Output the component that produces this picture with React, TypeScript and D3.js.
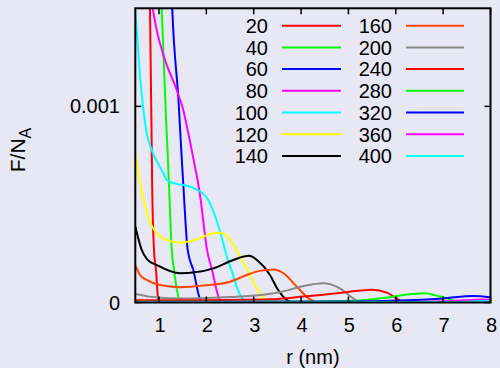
import React from "react";
import * as d3 from "d3";

// Radial profiles F/N_A(r) for increasing times
const labels = ["20", "40", "60", "80", "100", "120", "140", "160", "200", "240", "280", "320", "360", "400"];
const colors = [
  "#ff0000", "#00ff00", "#0000ff", "#ff00ff", "#00ffff", "#ffff00", "#000000",
  "#ff4500", "#888888", "#ff0000", "#00ff00", "#0000ff", "#ff00ff", "#00ffff",
];

type Pt = [number, number];
const s20: Pt[] = [[0.79, 1.8e-3], [0.81, 1.5e-3], [0.84, 0.93e-3], [0.855, 0.62e-3], [0.895, 0.268e-3], [0.937, 0.166e-3], [0.986, 0.013e-3], [1.06, 0.001e-3], [1.5, 0], [8, 0]];
const s40: Pt[] = [[1.03, 1.7e-3], [1.057, 1.5e-3], [1.15, 0.93e-3], [1.18, 0.778e-3], [1.21, 0.604e-3], [1.27, 0.268e-3], [1.317, 0.166e-3], [1.44, 0.013e-3], [1.58, 0.001e-3], [2, 0], [8, 0]];
const s60: Pt[] = [[1.25, 1.7e-3], [1.28, 1.5e-3], [1.42, 1.0e-3], [1.47, 0.778e-3], [1.513, 0.604e-3], [1.606, 0.268e-3], [1.725, 0.166e-3], [1.88, 0.013e-3], [2.02, 0.001e-3], [2.5, 0], [8, 0]];
const s80: Pt[] = [[0.8, 1.6e-3], [0.867, 1.5e-3], [0.952, 1.39e-3], [1.127, 1.237e-3], [1.374, 1.084e-3], [1.513, 0.982e-3], [1.62, 0.863e-3], [1.76, 0.693e-3], [1.83, 0.604e-3], [1.88, 0.523e-3], [2.014, 0.268e-3], [2.12, 0.166e-3], [2.29, 0.013e-3], [2.42, 0.001e-3], [3, 0], [8, 0]];
const s100: Pt[] = [[0.5, 1.49e-3], [0.584, 1.203e-3], [0.648, 1.033e-3], [0.741, 0.863e-3], [0.846, 0.778e-3], [1.09, 0.66e-3], [1.163, 0.625e-3], [1.37, 0.605e-3], [1.6, 0.595e-3], [1.8, 0.575e-3], [2.04, 0.523e-3], [2.3, 0.354e-3], [2.45, 0.22e-3], [2.53, 0.166e-3], [2.65, 0.075e-3], [2.79, 0.012e-3], [2.92, 0.001e-3], [3.5, 0], [8, 0]];
const s120: Pt[] = [[0.5, 0.76e-3], [0.6, 0.61e-3], [0.7, 0.5e-3], [0.81, 0.41e-3], [1.09, 0.327e-3], [1.44, 0.306e-3], [1.8, 0.322e-3], [2.08, 0.349e-3], [2.32, 0.356e-3], [2.5, 0.32e-3], [2.7, 0.24e-3], [2.9, 0.15e-3], [3.05, 0.08e-3], [3.2, 0.025e-3], [3.3, 0.005e-3], [3.4, 0.001e-3], [4, 0], [8, 0]];
const s140: Pt[] = [[0.5, 0.387e-3], [0.635, 0.268e-3], [0.75, 0.22e-3], [0.952, 0.191e-3], [1.44, 0.149e-3], [1.8, 0.155e-3], [2.147, 0.174e-3], [2.57, 0.217e-3], [2.9, 0.238e-3], [3.1, 0.21e-3], [3.344, 0.14e-3], [3.5, 0.07e-3], [3.66, 0.021e-3], [3.8, 0.002e-3], [4, 0], [8, 0]];
const s160: Pt[] = [[0.5, 0.191e-3], [0.6, 0.14e-3], [0.74, 0.115e-3], [1.0, 0.09e-3], [1.44, 0.078e-3], [2.0, 0.088e-3], [2.5, 0.106e-3], [2.85, 0.14e-3], [3.1, 0.16e-3], [3.42, 0.168e-3], [3.63, 0.149e-3], [3.91, 0.081e-3], [4.19, 0.016e-3], [4.35, 0.001e-3], [4.6, 0], [8, 0]];
const s200: Pt[] = [[0.5, 0.043e-3], [0.8, 0.03e-3], [1.2, 0.022e-3], [1.7, 0.021e-3], [2.5, 0.028e-3], [3.2, 0.04e-3], [3.6, 0.055e-3], [4.05, 0.084e-3], [4.47, 0.098e-3], [4.82, 0.072e-3], [5.1, 0.021e-3], [5.25, 0.002e-3], [5.5, 0], [8, 0]];
const s240: Pt[] = [[0.5, 0.011e-3], [2, 0.012e-3], [3.34, 0.016e-3], [4.05, 0.03e-3], [4.75, 0.047e-3], [5.2, 0.06e-3], [5.5, 0.065e-3], [5.81, 0.05e-3], [6.02, 0.021e-3], [6.15, 0.003e-3], [6.3, 0], [8, 0]];
const s280: Pt[] = [[0.5, 0.004e-3], [4, 0.005e-3], [5.1, 0.009e-3], [5.67, 0.021e-3], [6.3, 0.042e-3], [6.62, 0.047e-3], [6.86, 0.035e-3], [7.14, 0.018e-3], [7.3, 0.004e-3], [7.5, 0.001e-3], [8, 0]];
const s320: Pt[] = [[0.5, 0.003e-3], [5, 0.005e-3], [6.09, 0.01e-3], [7.0, 0.021e-3], [7.64, 0.033e-3], [8, 0.027e-3]];
const s360: Pt[] = [[0.5, 0.002e-3], [6, 0.003e-3], [7.2, 0.008e-3], [7.7, 0.014e-3], [8, 0.015e-3]];
const s400: Pt[] = [[0.5, 0.001e-3], [7, 0.002e-3], [7.6, 0.005e-3], [8, 0.008e-3]];
const series = [s20, s40, s60, s80, s100, s120, s140, s160, s200, s240, s280, s320, s360, s400];

const xTicks = [1, 2, 3, 4, 5, 6, 7, 8];
const yTicks = [0, 0.001];
const yTickLabels = ["0", "0.001"];

const W = 500;
const H = 368;
const left = 135.3;
const right = 490.5;
const top = 8.3;
const bottom = 302.5;
const FONT = "'Liberation Sans', Arial, Helvetica, sans-serif";

export default function App() {
  const x = d3.scaleLinear().domain([0.5, 8]).range([left, right]);
  const y = d3.scaleLinear().domain([0, 0.0015]).range([bottom, top]);
  const line = d3
    .line<Pt>()
    .x((d) => x(d[0]))
    .y((d) => y(d[1]))
    .curve(d3.curveMonotoneX);

  const tickLen = 6;
  const rowH = 21.7;
  const row0 = 25.7;
  const cols = [
    { textX: 268, x1: 282, x2: 341 },
    { textX: 392, x1: 406, x2: 464 },
  ];

  return (
    <svg
      width={W}
      height={H}
      style={{ position: "absolute", left: 0, top: 0, background: "#e8e8f5" }}
      fontFamily={FONT}
    >
      <rect x={0} y={0} width={W} height={H} fill="#e8e8f5" />
      <defs>
        <clipPath id="plot-clip">
          <rect x={left} y={top} width={right - left} height={bottom - top} />
        </clipPath>
      </defs>

      <g clipPath="url(#plot-clip)" fill="none" strokeWidth={2} strokeLinejoin="round">
        {series.map((s, i) => (
          <path key={labels[i]} d={line(s) || ""} stroke={colors[i]} />
        ))}
      </g>

      {/* ticks on all four sides, pointing inward */}
      <g stroke="#000" strokeWidth={1.5}>
        {xTicks.map((t) => (
          <g key={"xt" + t}>
            <line x1={x(t)} x2={x(t)} y1={bottom} y2={bottom - tickLen} />
            <line x1={x(t)} x2={x(t)} y1={top} y2={top + tickLen} />
          </g>
        ))}
        {yTicks.map((t) => (
          <g key={"yt" + t}>
            <line x1={left} x2={left + tickLen} y1={y(t)} y2={y(t)} />
            <line x1={right} x2={right - tickLen} y1={y(t)} y2={y(t)} />
          </g>
        ))}
      </g>

      <rect
        x={left}
        y={top}
        width={right - left}
        height={bottom - top}
        fill="none"
        stroke="#000"
        strokeWidth={2}
      />

      <g fontSize={20} fill="#000">
        {xTicks.map((t) => (
          <text key={"xl" + t} x={x(t) + 1} y={332} textAnchor="middle">
            {t}
          </text>
        ))}
        {yTicks.map((t, i) => (
          <text key={"yl" + t} x={120} y={y(t) + 7} textAnchor="end">
            {yTickLabels[i]}
          </text>
        ))}
        <text x={(left + right) / 2} y={364} textAnchor="middle">
          r (nm)
        </text>
        <text transform={`translate(25,${150}) rotate(-90)`} textAnchor="middle" fontSize={21}>
          F/N
          <tspan fontSize={16} dy={6}>
            A
          </tspan>
        </text>
      </g>

      <g fontSize={20}>
        {labels.map((lab, i) => {
          const c = cols[Math.floor(i / 7)];
          const yy = row0 + (i % 7) * rowH;
          return (
            <g key={"lg" + lab}>
              <text x={c.textX} y={yy + 7.3} textAnchor="end" fill="#000">
                {lab}
              </text>
              <line x1={c.x1} x2={c.x2} y1={yy} y2={yy} stroke={colors[i]} strokeWidth={2} />
            </g>
          );
        })}
      </g>
    </svg>
  );
}
